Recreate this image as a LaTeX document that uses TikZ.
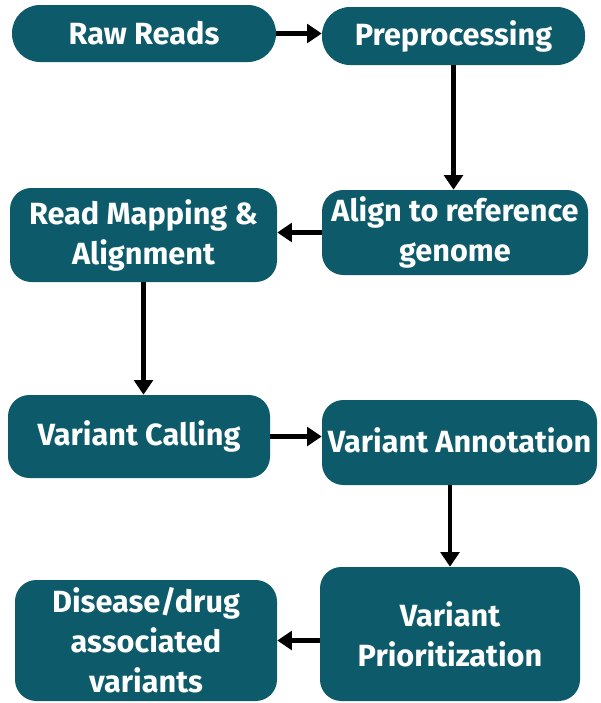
\documentclass[tikz,border=0pt]{standalone}
\usepackage{fontspec}
\setmainfont{Fira Sans}
\usetikzlibrary{arrows.meta}
\definecolor{teal}{HTML}{0D5B6A}
\begin{document}
\begin{tikzpicture}[x=0.75pt,y=-0.75pt,
  stage/.style={fill=teal, draw=none, rounded corners=16pt, text=white,
    font=\fontsize{23}{30}\selectfont\bfseries, align=center, inner sep=0pt},
  flow/.style={line width=3.3pt, -{Triangle[length=11pt,width=14pt]}}]
\useasboundingbox (0,0) rectangle (600,703);
\node[stage, rounded corners=21pt, minimum width=198pt, minimum height=42.75pt] (raw) at (144,33.5) {Raw Reads};
\node[stage, rounded corners=21pt, minimum width=197.25pt, minimum height=43.5pt] (pre) at (453.5,36) {\raisebox{1.5pt}{Preprocessing}};
\node[stage, minimum width=199.5pt, minimum height=63.75pt] (align) at (455,232.5) {Align to reference\\genome};
\node[stage, minimum width=200.25pt, minimum height=70.5pt] (map) at (143.5,235) {Read Mapping \&\\Alignment};
\node[stage, minimum width=196.5pt, minimum height=62.25pt] (call) at (139,436.5) {Variant Calling};
\node[stage, minimum width=206.25pt, minimum height=63.75pt] (annot) at (459.5,442.5) {\raisebox{3.5pt}{Variant Annotation}};
\node[stage, minimum width=195pt, minimum height=100.5pt] (prio) at (450,634) {Variant\\Prioritization};
\node[stage, minimum width=196.5pt, minimum height=90.75pt] (dis) at (146,640.5) {Disease/drug\\associated\\variants};
\draw[flow] (raw.east) -- (raw.east -| pre.west);
\draw[flow] (pre.south) -- (pre.south |- align.north);
\draw[flow] (align.west) -- (align.west -| map.east);
\draw[flow] (map.south) -- (map.south |- call.north);
\draw[flow] (call.east) -- (call.east -| annot.west);
\draw[flow] (prio.north |- annot.south) -- (prio.north);
\draw[flow] (prio.west |- dis.east) -- (dis.east);
\end{tikzpicture}
\end{document}
